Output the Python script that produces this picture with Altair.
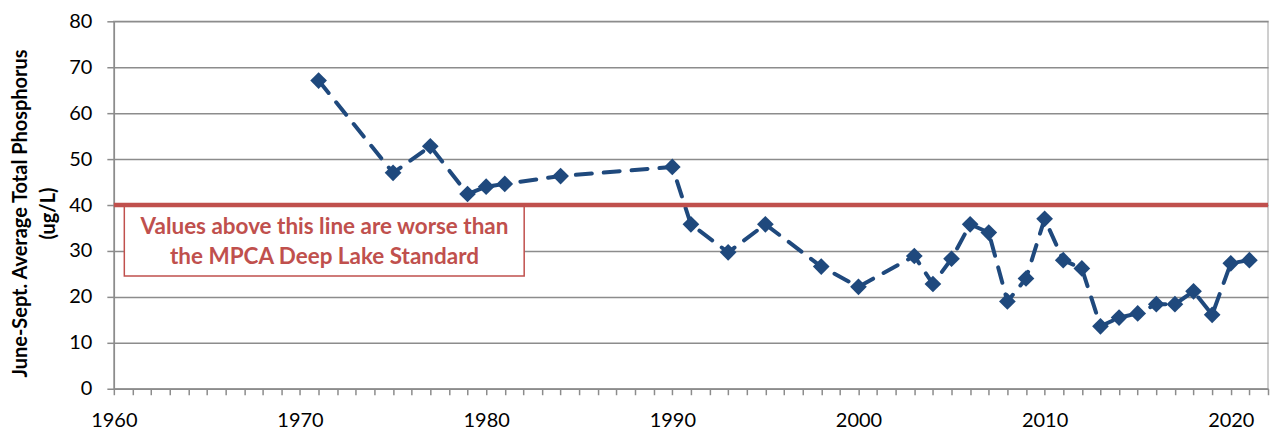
import altair as alt
import pandas as pd

years = [1971, 1975, 1977, 1979, 1980, 1981, 1984, 1990, 1991, 1993, 1995, 1998,
         2000, 2003, 2004, 2005, 2006, 2007, 2008, 2009, 2010, 2011, 2012, 2013,
         2014, 2015, 2016, 2017, 2018, 2019, 2020, 2021]
tp = [67.1, 47.0, 52.8, 42.4, 44.0, 44.6, 46.3, 48.3, 35.8, 29.7, 35.8, 26.6,
      22.2, 28.9, 22.8, 28.3, 35.8, 34.0, 19.0, 24.0, 37.0, 28.0, 26.2, 13.6,
      15.5, 16.4, 18.4, 18.4, 21.2, 16.1, 27.3, 28.0]
standard = [40]
note_lines = ["Values above this line are worse than", "the MPCA Deep Lake Standard"]
y_title = ["June-Sept. Average Total Phosphorus", "(ug/L)"]
x_ticks = list(range(1960, 2023))
y_ticks = list(range(0, 81, 10))

df = pd.DataFrame({"year": years, "tp": tp})
std_df = pd.DataFrame({"v": standard})
note_df = pd.DataFrame({"t": [note_lines]})

BLUE = "#1F497D"
RED = "#C0504D"
GRID = "#8C8C8C"
FONT = "Lato"

x_scale = alt.Scale(domain=[1960, 2022], nice=False, zero=False)
y_scale = alt.Scale(domain=[0, 80], nice=False)

x_axis = alt.Axis(values=x_ticks, format="d",
                  labelExpr="datum.value % 10 == 0 ? datum.label : ''",
                  labelOverlap=False, labelFlush=False,
                  grid=False, tickSize=6, tickColor=GRID, domainColor=GRID,
                  domainWidth=1.5, tickWidth=1.5, labelPadding=16,
                  labelFont=FONT, labelFontSize=20, labelColor="#000000", title=None)
y_axis = alt.Axis(values=y_ticks, grid=True, gridColor=GRID, gridWidth=1.5,
                  tickSize=7, tickColor=GRID, tickWidth=1.5, domainColor=GRID,
                  domainWidth=1.5, labelPadding=15, labelFont=FONT,
                  labelFontSize=20, labelColor="#000000", labelOverlap=False,
                  title=y_title, titleFont=FONT, titleFontSize=20,
                  titleFontWeight="bold", titleColor="#000000", titleAngle=-90,
                  titleX=-103, titleY=192, titleAlign="center",
                  titleBaseline="top", titleLineHeight=28)

X = alt.X("year:Q", scale=x_scale, axis=x_axis)
Y = alt.Y("tp:Q", scale=y_scale, axis=y_axis)

base = alt.Chart(df)

line = base.mark_line(color=BLUE, strokeWidth=4, strokeDash=[16, 12],
                      strokeCap="round").encode(x=X, y=Y)
pts = base.mark_point(shape="diamond", filled=True, size=280, color=BLUE,
                      opacity=1).encode(x=X, y=Y)

box = alt.Chart(std_df).mark_rect(fill="white", stroke=RED, strokeWidth=1.5).encode(
    x=alt.value(10.5), x2=alt.value(411), y=alt.value(184), y2=alt.value(255)
)
note = alt.Chart(note_df).mark_text(font=FONT, fontSize=22.5, fontWeight="bold",
                                    color=RED, align="center", baseline="middle",
                                    lineHeight=30).encode(
    x=alt.value(211), y=alt.value(206), text="t"
)
std_rule = alt.Chart(std_df).mark_rule(color=RED, strokeWidth=4.5).encode(
    y=alt.Y("v:Q", scale=y_scale, axis=y_axis)
)

chart = alt.layer(line, pts, box, note, std_rule).properties(
    width=1156, height=368,
    autosize=alt.AutoSizeParams(type="none"),
    padding={"left": 106, "top": 13, "right": 4, "bottom": 43},
).configure_view(stroke="#BFBFBF", strokeWidth=1.5)

chart.save("out.html", embed_options={"renderer": "svg", "actions": False})
